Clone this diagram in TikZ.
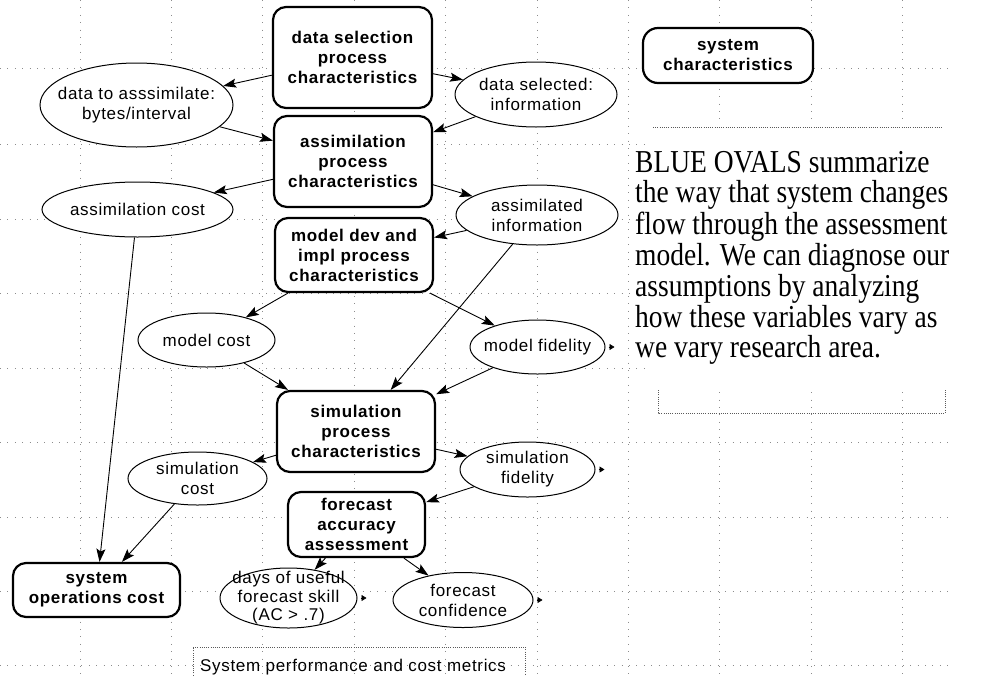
\documentclass[tikz,border=0pt]{standalone}
\usepackage{fontspec}
\usepackage{graphicx}
\setmainfont{Liberation Serif}
\newfontfamily\diagfont{Liberation Sans}[LetterSpace=4.0]
\usetikzlibrary{arrows.meta, positioning, shapes.geometric, calc}
\definecolor{gridgray}{RGB}{140,140,140}
\definecolor{rulegray}{RGB}{90,90,90}

\tikzset{
  procbox/.style={draw=black, line width=2.2pt, rounded corners=13pt, fill=white,
    inner sep=2pt, align=center, font=\diagfont\bfseries\fontsize{17}{20}\selectfont},
  oval/.style={ellipse, draw=black, line width=1pt, fill=white, inner sep=0pt},
  ovaltext/.style={align=center, inner sep=0pt, font=\diagfont\fontsize{17}{20}\selectfont},
  link/.style={line width=0.9pt, -{Stealth[length=13pt, width=9pt, inset=2.5pt]}},
  outtip/.style={line width=0.6pt, -{Triangle[length=5pt, width=6pt]}},
  gridline/.style={gridgray, line width=1pt, dash pattern=on 0.9pt off 6.5pt},
  notebox/.style={rulegray, line width=0.6pt, dash pattern=on 1pt off 1.2pt},
}

\begin{document}
\begin{tikzpicture}[x=1pt, y=-1pt]

\useasboundingbox (0,0) rectangle (981,675);
\fill[white] (0,0) rectangle (981,675);

% === grid ===
\foreach \gx in {80,171.4,262.8,354.2,445.6,537,628.4,719.8,811.2,902.6}
  \draw[gridline] (\gx,0) -- (\gx,675);
\foreach \gy in {68,144,219,293,368,442,517,591,665}
  \draw[gridline] (0,\gy) -- (953,\gy);

% === note ===
\fill[white] (645,120) rectangle (981,390);
\draw[notebox] (653,127) -- (942,127);
\draw[notebox] (658,390) -- (658,413) -- (945,413) -- (945,390);
\node[anchor=base west, inner sep=0pt, font=\fontsize{27.5}{25.3}\selectfont] (note) at (635,172)
  {\scalebox{1}[1.16]{\begin{tabular}[t]{@{}l@{}}
    BLUE OVALS summarize\\
    the way that system changes\\
    flow through the assessment\\
    model.  We can diagnose our\\
    assumptions by analyzing\\
    how these variables vary as\\
    we vary research area.
  \end{tabular}}};

% === caption ===
\draw[notebox] (193,680) -- (193,647) -- (525,647) -- (525,680);
\node[anchor=west, inner sep=0pt, font=\diagfont\fontsize{17}{20}\selectfont] (caption) at (200,667)
  {System performance and cost metrics};

% === process boxes ===
\node[procbox, minimum width=159, minimum height=101] (dsel) at (352.5,57.5)
  {data selection\\process\\characteristics};
\node[procbox, minimum width=158, minimum height=91] (assim) at (353,161.5)
  {assimilation\\process\\characteristics};
\node[procbox, minimum width=158, minimum height=74] (modeldev) at (354,255)
  {model dev and\\impl process\\characteristics};
\node[procbox, minimum width=158, minimum height=81] (simproc) at (356,431.5)
  {simulation\\process\\characteristics};
\node[procbox, minimum width=137, minimum height=65] (fcast) at (356.5,524.5)
  {forecast\\accuracy\\assessment};
\node[procbox, minimum width=167, minimum height=54] (sysops) at (96.5,590)
  {system\\operations cost};
\node[procbox, minimum width=170, minimum height=55, rounded corners=15pt] (syschar) at (728,55.5)
  {system\\characteristics};

% === ovals ===
\node[oval, minimum width=193, minimum height=84,
  label={[ovaltext]center:{data to asssimilate:\\bytes/interval}}] (d2a) at (136.5,105) {};
\node[oval, minimum width=162, minimum height=65,
  label={[ovaltext]center:{data selected:\\information}}] (dselinfo) at (536,94.5) {};
\node[oval, minimum width=191, minimum height=55,
  label={[ovaltext]center:{assimilation cost}}] (assimcost) at (137.5,209.5) {};
\node[oval, minimum width=162, minimum height=60,
  label={[ovaltext]center:{assimilated\\information}}] (assiminfo) at (537,215) {};
\node[oval, minimum width=137, minimum height=54,
  label={[ovaltext]center:{model cost}}] (modelcost) at (206.5,340) {};
\node[oval, minimum width=135, minimum height=54,
  label={[ovaltext]center:{model fidelity}}] (modelfid) at (537.5,347) {};
\node[oval, minimum width=139, minimum height=53,
  label={[ovaltext]center:{simulation\\cost}}] (simcost) at (197.5,478.5) {};
\node[oval, minimum width=135, minimum height=55,
  label={[ovaltext]center:{simulation\\fidelity}}] (simfid) at (527.5,469.5) {};
\node[oval, minimum width=137, minimum height=60,
  label={[ovaltext, font=\diagfont\fontsize{17}{18.5}\selectfont]center:{days of useful\\forecast skill\\(AC > .7)}}] (days) at (288.5,598) {};
\node[oval, minimum width=140, minimum height=55,
  label={[ovaltext]center:{forecast\\confidence}}] (fconf) at (463,600) {};

% === links ===
\draw[link] (dsel) -- (d2a);
\draw[link] (dsel) -- (dselinfo);
\draw[link] (d2a) -- (assim);
\draw[link] (dselinfo) -- (assim);
\draw[link] (assim) -- (assimcost);
\draw[link] (assim) -- (assiminfo);
\draw[link] (assiminfo) -- (modeldev);
\draw[link] (assiminfo) -- (simproc);
\draw[link] (modeldev) -- (modelcost);
\draw[link] (modeldev) -- (modelfid);
\draw[link] (modelcost) -- (simproc);
\draw[link] (modelfid) -- (simproc);
\draw[link] (simproc) -- (simcost);
\draw[link] (simproc) -- (simfid);
\draw[link] (simfid) -- (fcast);
\draw[link] (fcast) -- (days);
\draw[link] (fcast) -- (fconf);
\draw[link] (assimcost) -- (sysops);
\draw[link] (simcost) -- (sysops);

% outputs
\foreach \o in {modelfid, simfid, days, fconf} {
  \coordinate (\o-out) at ([xshift=9pt]\o.east);
  \draw[outtip] ([xshift=3pt]\o.east) -- (\o-out);
}

\end{tikzpicture}
\end{document}
